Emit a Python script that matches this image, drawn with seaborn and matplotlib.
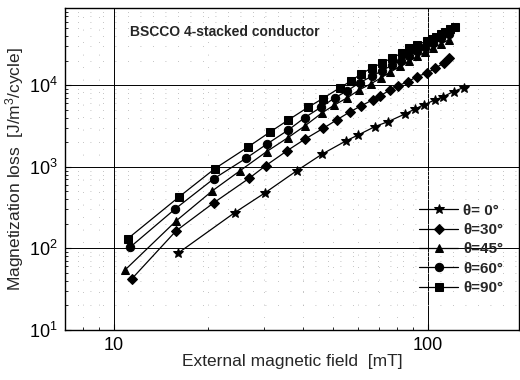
import matplotlib
matplotlib.use("Agg")
import matplotlib.pyplot as plt
import seaborn as sns
import numpy as np
import pandas as pd
from matplotlib.ticker import FixedLocator, FixedFormatter, LogLocator, NullFormatter

# ---- data ----
x0 = [16.0, 24.3, 30.4, 38.2, 46.2, 54.9, 60.1, 67.9, 74.9, 84.7, 91.2, 96.9, 105.5, 112.1, 120.7, 129.9]
y0 = [87, 275, 483, 891, 1440, 2080, 2460, 3115, 3590, 4455, 5130, 5740, 6610, 7265, 8360, 9360]

x30 = [11.4, 15.8, 20.8, 27.0, 30.5, 35.7, 40.6, 46.5, 51.3, 56.5, 61.3, 66.7, 70.5, 75.9, 80.6, 86.7, 92.2, 99.3, 105.6, 112.3, 116.5]
y30 = [42, 164, 361, 724, 1035, 1580, 2178, 2970, 3758, 4710, 5580, 6610, 7400, 8770, 9900, 11080, 12770, 14040, 16180, 18630, 21450]

x45 = [10.9, 15.8, 20.6, 25.3, 30.7, 35.9, 40.6, 45.9, 50.3, 55.1, 60.5, 65.8, 71.0, 76.0, 81.5, 87.0, 92.6, 98.0, 104.0, 110.0, 116.5]
y45 = [55, 217, 507, 900, 1538, 2282, 3170, 4540, 5690, 6930, 8770, 10380, 12300, 14500, 17000, 19800, 22500, 25500, 28500, 32000, 36000]

x60 = [11.3, 15.7, 20.8, 26.4, 30.8, 36.0, 40.6, 45.7, 50.7, 55.4, 60.8, 66.2, 71.3, 76.7, 82.0, 87.0, 92.6, 98.0, 104.0, 110.0, 116.5]
y60 = [104, 305, 711, 1274, 1909, 2833, 4014, 5373, 7060, 8530, 10790, 12800, 14990, 17500, 20000, 23000, 26000, 29000, 33000, 37500, 43000]

x90 = [11.1, 16.2, 21.0, 26.8, 31.5, 36.0, 41.6, 46.3, 52.4, 56.8, 61.1, 66.2, 71.3, 76.7, 82.6, 87.3, 92.6, 99.3, 103.0, 106.3, 110.0, 113.6, 118.0, 122.3]
y90 = [132, 432, 951, 1754, 2679, 3758, 5373, 6865, 9275, 11200, 13650, 16180, 18630, 21450, 24700, 28450, 31200, 34900, 37000, 39400, 42000, 45400, 48500, 52400]

labels = ["θ= 0°", "θ=30°", "θ=45°", "θ=60°", "θ=90°"]
xs = [x0, x30, x45, x60, x90]
ys = [y0, y30, y45, y60, y90]

x_ticks = [10, 100]
x_ticklabels = ["10", "100"]
y_ticks = [10, 100, 1000, 10000]
y_ticklabels = [r"$10^1$", r"$10^2$", r"$10^3$", r"$10^4$"]

# ---- plotting ----
sns.set_theme(style="white")
plt.rcParams["font.family"] = ["Liberation Sans", "DejaVu Sans"]
plt.rcParams["mathtext.fontset"] = "custom"
plt.rcParams["mathtext.rm"] = "Liberation Sans"
plt.rcParams["mathtext.it"] = "Liberation Sans"

fig = plt.figure(figsize=(5.2, 3.8), dpi=100)
ax = fig.add_axes([0.125, 0.1316, 0.873, 0.847])

markers = ["*", "D", "^", "o", "s"]
msizes = [7.5, 5.5, 6, 6, 5.5]
for x, y, lab, m, ms in zip(xs, ys, labels, markers, msizes):
    df = pd.DataFrame({"x": x, "y": y})
    sns.lineplot(data=df, x="x", y="y", ax=ax, color="black", marker=m,
                 markersize=ms, markeredgecolor="black", markerfacecolor="black",
                 linewidth=0.9, label=lab, sort=False)

ax.set_xscale("log")
ax.set_yscale("log")
ax.set_xlim(7, 195)
ax.set_ylim(10, 88000)

ax.xaxis.set_major_locator(FixedLocator(x_ticks))
ax.xaxis.set_major_formatter(FixedFormatter(x_ticklabels))
ax.yaxis.set_major_locator(FixedLocator(y_ticks))
ax.yaxis.set_major_formatter(FixedFormatter(y_ticklabels))
ax.xaxis.set_minor_locator(LogLocator(base=10, subs=np.arange(2, 10)))
ax.yaxis.set_minor_locator(LogLocator(base=10, subs=np.arange(2, 10)))
ax.xaxis.set_minor_formatter(NullFormatter())
ax.yaxis.set_minor_formatter(NullFormatter())

ax.tick_params(which="both", direction="in", colors="black", top=False, right=False,
               bottom=True, left=True)
ax.tick_params(which="major", length=4, width=0.8, labelsize=13, pad=5)
ax.tick_params(which="minor", length=2.5, width=0.6)

ax.grid(True, which="major", color="black", linestyle="-", linewidth=0.7)
ax.grid(True, which="minor", color="#b0b0b0", linestyle=(0, (1, 14)), linewidth=0.6)
for s in ax.spines.values():
    s.set_color("black")
    s.set_linewidth(1.0)

ax.set_xlabel("External magnetic field  [mT]", fontsize=12.5, labelpad=0)
ax.set_ylabel(r"Magnetization loss  [J/m$^3$/cycle]", fontsize=12.5, labelpad=2)

ax.text(0.143, 0.925, "BSCCO 4-stacked conductor", transform=ax.transAxes,
        fontsize=10, fontweight="bold", ha="left", va="center")

leg = ax.legend(loc="lower right", bbox_to_anchor=(0.985, 0.08), frameon=False,
                fontsize=11, handlelength=2.6, handletextpad=0.3, labelspacing=0.35,
                borderaxespad=0.2)
for t in leg.get_texts():
    t.set_fontweight("bold")

fig.savefig("out.png", dpi=100)
